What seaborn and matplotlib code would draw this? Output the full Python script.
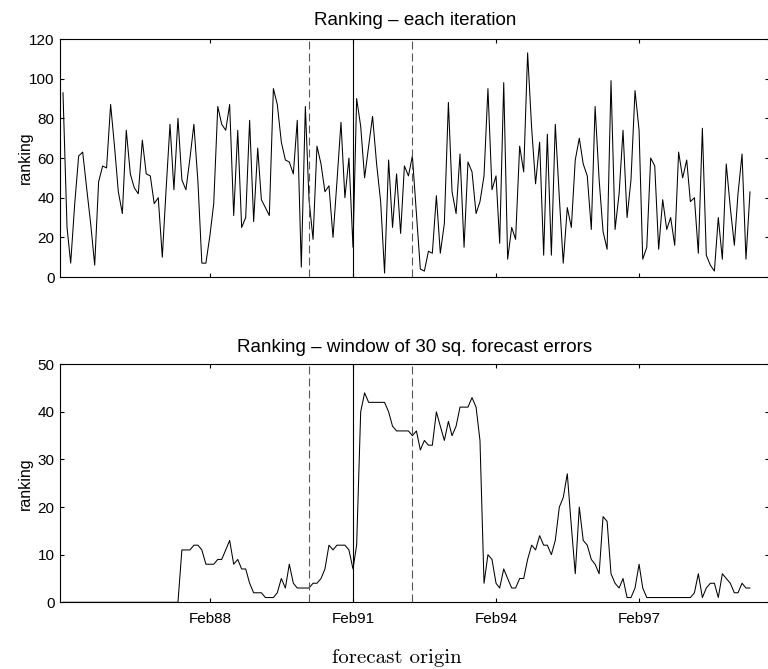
import numpy as np
import pandas as pd
import matplotlib
matplotlib.use('Agg')
import matplotlib.pyplot as plt
import matplotlib.dates as mdates
import seaborn as sns

# ---------------- data ----------------
start_month = '1985-01-01'

rank_each = [93, 25, 7, 37, 61, 63, 45, 27, 6, 48, 56, 55, 87, 65, 43, 32, 74, 52, 45, 42,
             69, 52, 51, 37, 40, 10, 43, 77, 44, 80, 49, 44, 60, 77, 48, 7, 7, 21, 37, 86,
             77, 74, 87, 31, 74, 25, 30, 79, 28, 65, 39, 35, 31, 95, 87, 68, 59, 58, 52, 79,
             5, 86, 39, 19, 66, 57, 43, 46, 20, 48, 78, 40, 60, 15, 90, 76, 50, 66, 81, 57,
             38, 2, 59, 25, 52, 22, 56, 51, 61, 32, 4, 3, 13, 12, 41, 12, 27, 88, 43, 32,
             62, 15, 58, 53, 32, 38, 51, 95, 44, 51, 17, 98, 9, 25, 19, 66, 53, 113, 75, 47,
             68, 11, 72, 11, 77, 40, 7, 35, 25, 59, 70, 57, 51, 24, 86, 49, 23, 14, 99, 24,
             42, 74, 30, 49, 94, 74, 9, 15, 60, 56, 14, 39, 24, 30, 16, 63, 50, 59, 38, 40,
             12, 75, 11, 6, 3, 30, 9, 57, 35, 16, 42, 62, 9, 43]

rank_window = [0] * 30 + [
    11, 11, 11, 12, 12, 11, 8, 8, 8, 9, 9, 11, 13, 8, 9, 7, 7, 4, 2, 2,
    2, 1, 1, 1, 2, 5, 3, 8, 4, 3, 3, 3, 3, 4, 4, 5, 7, 12, 11, 12,
    12, 12, 11, 7, 12, 40, 44, 42, 42, 42, 42, 42, 40, 37, 36, 36, 36, 36, 35, 36,
    32, 34, 33, 33, 40, 37, 34, 38, 35, 37, 41, 41, 41, 43, 41, 34, 4, 10, 9, 4,
    3, 7, 5, 3, 3, 5, 5, 9, 12, 11, 14, 12, 12, 10, 13, 20, 22, 27, 16, 6,
    20, 13, 12, 9, 8, 6, 18, 17, 6, 4, 3, 5, 1, 1, 3, 8, 3,
    1, 1, 1, 1, 1, 1, 1, 1, 1, 1, 1, 1,
    2, 6, 1, 3, 4, 4, 1, 6, 5, 4, 2, 2, 4, 3, 3]

dashed_event_dates = ['1990-03-01', '1992-05-01']
solid_event_dates = ['1991-02-01']
tick_dates = ['1988-02-01', '1991-02-01', '1994-02-01', '1997-02-01']
tick_labels = ['Feb88', 'Feb91', 'Feb94', 'Feb97']

title_top = 'Ranking \u2013 each iteration'
title_bottom = 'Ranking \u2013 window of 30 sq. forecast errors'
ylabel = 'ranking'
xlabel = 'forecast origin'

dates = pd.date_range(start_month, periods=len(rank_each), freq='MS')
df = pd.DataFrame({'date': dates, 'each': rank_each, 'window': rank_window})

# ---------------- style ----------------
sns.set_theme(style='ticks')
plt.rcParams['font.family'] = ['Liberation Sans', 'DejaVu Sans']
plt.rcParams['axes.edgecolor'] = 'black'
plt.rcParams['axes.linewidth'] = 0.8
plt.rcParams['xtick.color'] = 'black'
plt.rcParams['ytick.color'] = 'black'

fig = plt.figure(figsize=(7.68, 6.69), dpi=100)
ax1 = fig.add_axes([0.0781, 0.5859, 0.9238, 0.3558])
ax2 = fig.add_axes([0.0781, 0.0997, 0.9238, 0.3558])

sns.lineplot(data=df, x='date', y='each', ax=ax1, color='black', linewidth=0.75)
sns.lineplot(data=df, x='date', y='window', ax=ax2, color='black', linewidth=0.75)

xmin = pd.Timestamp('1984-12-09')
xmax = pd.Timestamp('1999-10-28')

for ax, ymax, step, title, pad in [(ax1, 120, 20, title_top, 10), (ax2, 50, 10, title_bottom, 9)]:
    for d in dashed_event_dates:
        ax.axvline(pd.Timestamp(d), color='#555555', linewidth=0.8, dashes=(7.2, 3.6))
    for d in solid_event_dates:
        ax.axvline(pd.Timestamp(d), color='black', linewidth=0.8)
    ax.set_xlim(xmin, xmax)
    ax.set_ylim(0, ymax)
    ax.set_yticks(np.arange(0, ymax + 1, step))
    ax.set_xticks([pd.Timestamp(t) for t in tick_dates])
    ax.tick_params(axis='both', direction='in', top=True, right=True, length=3,
                   width=0.8, labelsize=11, colors='black')
    ax.tick_params(axis='y', pad=4)
    ax.tick_params(axis='x', pad=7)
    ax.set_xlabel('')
    ax.set_ylabel(ylabel, fontsize=11.5, color='black')
    ax.yaxis.set_label_coords(-0.038, 0.5)
    ax.set_title(title, fontsize=13.5, pad=pad, color='black')
    for s in ax.spines.values():
        s.set_visible(True)
        s.set_color('black')

ax1.set_xticklabels([])
ax2.set_xticklabels(tick_labels)

fig.text(397 / 768, 1 - 663 / 669, xlabel, fontfamily='cmr10', fontsize=15,
         ha='center', va='baseline', color='black')

fig.savefig('out.png', dpi=100)
